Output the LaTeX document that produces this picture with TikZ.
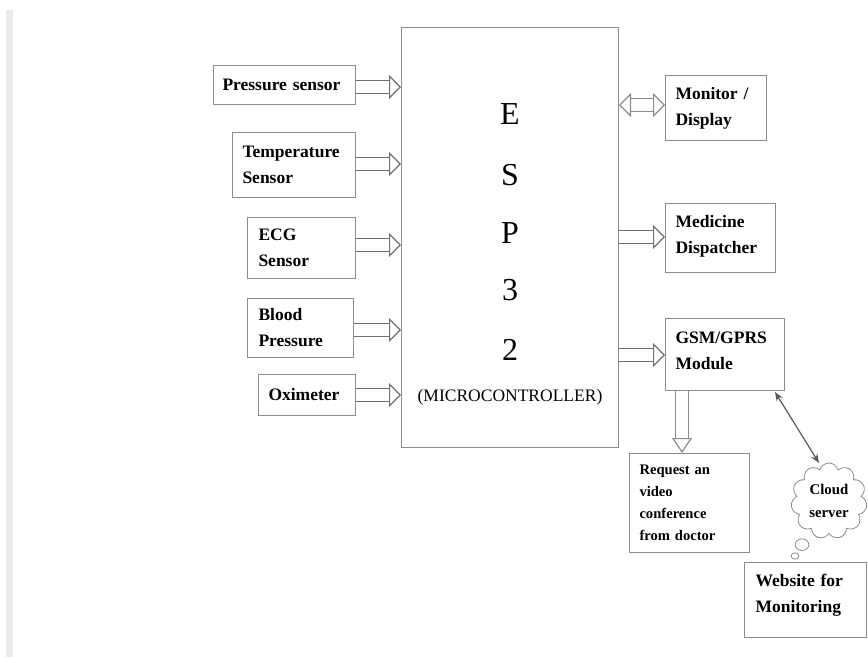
\documentclass[tikz,border=0pt]{standalone}
\usepackage{fontspec}
\setmainfont{Liberation Serif}
\usetikzlibrary{positioning,arrows.meta,calc,shapes.callouts}
\definecolor{figline}{gray}{0.55}
\tikzset{
  figbox/.style={draw=figline, line width=1pt, align=left, font=\fontsize{17.5}{26}\selectfont\bfseries,
    inner ysep=0pt, inner xsep=10pt, anchor=north west},
  figletter/.style={font=\fontsize{32}{32}\selectfont, inner sep=0pt},
  figarrow/.style={double=white, draw=figline!80!black, double distance=12pt, line width=1.2pt, -{Triangle[open,fill=white,length=12pt,width=24pt,line width=1.2pt]}},
  figboth/.style={figarrow, {Triangle[open,fill=white,length=12pt,width=24pt,line width=1.2pt]}-{Triangle[open,fill=white,length=12pt,width=24pt,line width=1.2pt]}, draw=figline},
  figdown/.style={figarrow, draw=figline, -{Triangle[open,fill=white,length=15pt,width=20pt,line width=1.2pt]}},
}
\begin{document}
\begin{tikzpicture}[x=1pt,y=-1pt]
  \useasboundingbox (0,0) rectangle (868,657);
  % bar on the left
  \fill[black!8] (6,10) rectangle (13,657);
  % controller
  \node[figbox, minimum width=217pt, minimum height=420pt] (esp) at (401,27) {};
  \node[figletter] (e) at (510,114) {E};
  \node[figletter] (s) at (510,175) {S};
  \node[figletter] (p) at (510,233) {P};
  \node[figletter] (three) at (510,290) {3};
  \node[figletter] (two) at (510,350) {2};
  \node[font=\fontsize{17.5}{18}\selectfont, inner sep=0pt] (mcu) at (510,397) {(MICROCONTROLLER)};
  % inputs
  \node[figbox, minimum width=142pt, minimum height=39pt, text width=124pt, inner xsep=9pt] (pres) at (213,65) {Pressure sensor};
  \node[figbox, minimum width=123pt, minimum height=65pt, text width=103pt] (temp) at (232,132) {Temperature\\Sensor};
  \node[figbox, minimum width=108pt, minimum height=61pt, text width=86pt, inner xsep=11pt] (ecg) at (247,217) {ECG\\Sensor};
  \node[figbox, minimum width=106pt, minimum height=59pt, text width=84pt, inner xsep=11pt] (bp) at (247,298) {Blood\\Pressure};
  \node[figbox, minimum width=97pt, minimum height=41pt, text width=77pt] (oxi) at (258,374) {Oximeter};
  % outputs
  \node[figbox, minimum width=101pt, minimum height=65pt, text width=81pt] (mon) at (665,75) {Monitor /\\Display};
  \node[figbox, minimum width=110pt, minimum height=69pt, text width=90pt, text depth=33pt] (med) at (665,203) {Medicine\\Dispatcher};
  \node[figbox, minimum width=119pt, minimum height=72pt, text width=99pt, text depth=34pt] (gsm) at (665,318) {GSM/GPRS\\Module};
  \node[figbox, minimum width=120pt, minimum height=99pt, text width=100pt, font=\fontsize{14.6}{22}\selectfont\bfseries] (req) at (629,453) {Request an\\video\\conference\\from doctor};
  \node[figbox, minimum width=122pt, minimum height=75pt, text width=100pt, inner xsep=11pt, text depth=40pt] (web) at (744,562) {Website for\\Monitoring};
  % cloud
  \node[cloud callout, draw=figline, line width=.8pt, minimum width=76pt, minimum height=76pt, cloud puffs=11, aspect=1, align=center,
    font=\fontsize{14.8}{23}\selectfont\bfseries, inner sep=0pt, callout pointer start size=.26 of callout,
    callout absolute pointer={(795,556)}] (cloud) at (829,501) {Cloud\\server};
  \coordinate (cloudtop) at (819,463);
  % connectors
  \draw[figarrow] (pres.east |- 0,87) -- (esp.west |- 0,87);
  \draw[figarrow] (temp.east |- 0,164) -- (esp.west |- 0,164);
  \draw[figarrow] (ecg.east |- 0,245) -- (esp.west |- 0,245);
  \draw[figarrow] (bp.east |- 0,330) -- (esp.west |- 0,330);
  \draw[figarrow] (oxi.east |- 0,395) -- (esp.west |- 0,395);
  \draw[figboth] (esp.east |- 0,105) -- (mon.west |- 0,105);
  \draw[figarrow] (esp.east |- 0,237) -- (med.west |- 0,237);
  \draw[figarrow] (esp.east |- 0,355) -- (gsm.west |- 0,355);
  \draw[figdown] (gsm.south -| 682,0) -- (req.north -| 682,0);
  \draw[{Stealth[length=9pt,width=7pt]}-{Stealth[length=9pt,width=7pt]}, line width=1.2pt, black!65] (gsm.south east) ++(-10,1) -- (cloudtop);
\end{tikzpicture}
\end{document}
